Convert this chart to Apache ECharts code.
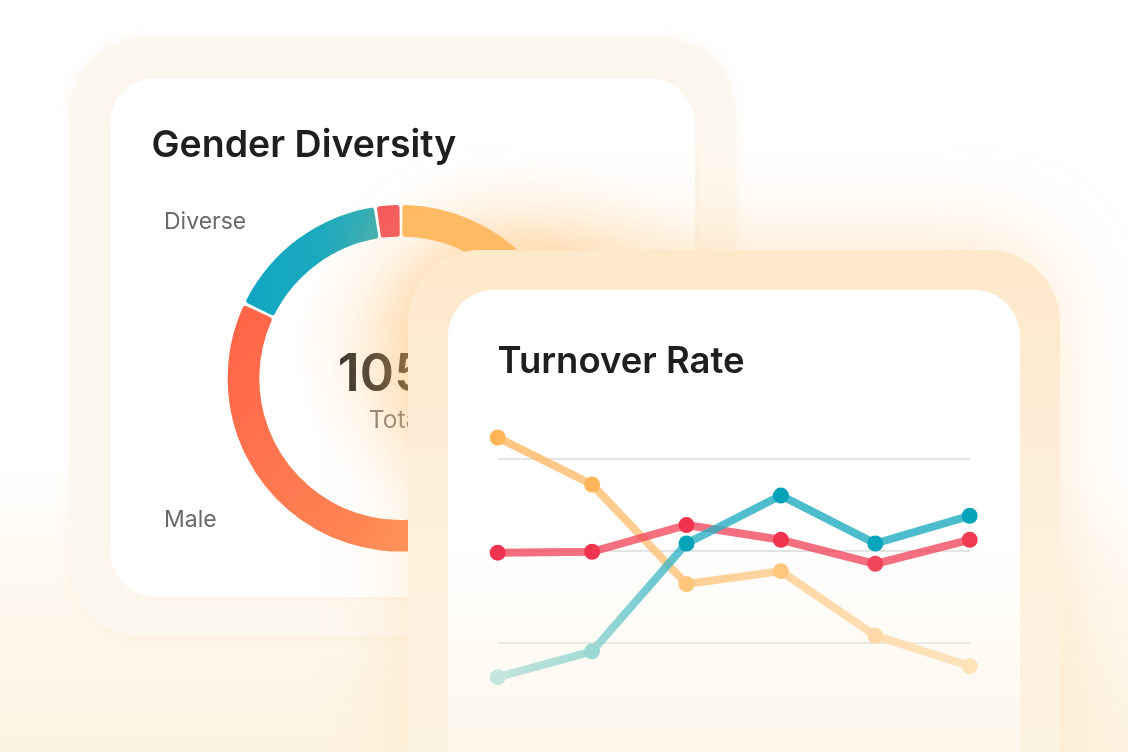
<!DOCTYPE html>
<html>
<head>
<meta charset="utf-8">
<script src="https://cdn.jsdelivr.net/npm/echarts@6/dist/echarts.min.js"></script>
<style>
html,body{margin:0;padding:0;width:1128px;height:752px;overflow:hidden;}
body{position:relative;background:linear-gradient(180deg,#ffffff 0%,#ffffff 62%,#fef9f0 78%,#fdf3e1 100%);font-family:Inter,sans-serif;}
.abs{position:absolute;}
#backHalo{left:70px;top:38px;width:665px;height:598px;border-radius:72px;background:#fdf8ef;box-shadow:0 0 16px rgba(240,205,160,0.18);}
#backCard{left:110px;top:78px;width:585px;height:519px;border-radius:46px;background:#ffffff;box-shadow:0 0 8px rgba(235,205,160,0.15);}
#glow{left:290px;top:160px;width:460px;height:380px;background:radial-gradient(ellipse 50% 50% at 50% 50%, rgba(255,185,100,0.6) 0%, rgba(255,188,105,0.42) 45%, rgba(255,200,130,0.14) 75%, rgba(255,210,150,0) 100%);}
#frontHalo{left:408px;top:250px;width:652px;height:560px;border-radius:72px;background:linear-gradient(180deg,#fde8ca 0%,#fdefdb 45%,#fdf4e5 100%);box-shadow:0 -20px 90px -10px rgba(255,185,100,0.34);}
#frontCard{left:448px;top:290px;width:572px;height:520px;border-radius:46px;background:linear-gradient(180deg,#ffffff 0%,#ffffff 48%,#fefaf2 75%,#fdf5e6 100%);}
#c1{left:110px;top:78px;width:585px;height:519px;}
#c2{left:448px;top:290px;width:572px;height:462px;}
</style>
</head>
<body>
<div id="backHalo" class="abs"></div>
<div id="backCard" class="abs"></div>
<div id="c1" class="abs"></div>
<div id="glow" class="abs"></div>
<div id="frontHalo" class="abs"></div>
<div id="frontCard" class="abs"></div>
<div id="c2" class="abs"></div>
<script>
// ---- Gender Diversity data ----
const genderNames = ['Female', 'Male', 'Diverse', 'Undisclosed'];
const genderValues = [442, 420, 163, 25];
const genderTitle = 'Gender Diversity';
const genderLabels = ['Diverse', 'Male'];
const totalCaption = 'Total';

// ---- Turnover Rate data ----
const months = ['Jan', 'Feb', 'Mar', 'Apr', 'May', 'Jun'];
const seriesOrange = [32.3, 27.2, 16.4, 17.8, 10.8, 7.5];
const seriesRed = [19.8, 19.9, 22.8, 21.2, 18.6, 21.2];
const seriesTeal = [6.3, 9.1, 20.8, 26.0, 20.8, 23.8];
const turnoverTitle = 'Turnover Rate';
const yTicks = [0, 10, 20, 30, 40];

// ---- styles ----
const orangeDots = ['#ffb457', '#ffb65b', '#ffc57b', '#ffc67e', '#ffd9a7', '#ffe2b8'];
const redDots = ['#f03450', '#f03450', '#f03450', '#f03450', '#f0475c', '#ef3a52'];
const tealDots = ['#c5e6df', '#9cd8d3', '#06a4bb', '#03a3ba', '#07a5bb', '#03a3ba'];

const total = genderValues.reduce((a, b) => a + b, 0);

const c1 = echarts.init(document.getElementById('c1'), null, {renderer: 'canvas'});
const grad = (x2, y2, stops) => new echarts.graphic.LinearGradient(0, 0, x2, y2, stops.map((c, i) => ({offset: i / (stops.length - 1), color: c})));
const sliceColors = [
  '#ffb960',
  grad(1, 1, ['#ff6347', '#ff7a50', '#ff965a']),
  grad(1, 0, ['#10a7c3', '#1aa9bf', '#3aaeb3']),
  '#f4575b'
];
const txt = (x, y, text, font, fill, align) => ({type: 'text', x: x, y: y, style: {text: text, font: font, fill: fill, textAlign: align || 'left', align: align || 'left', textVerticalAlign: 'middle', verticalAlign: 'middle'}});
c1.setOption({
  animation: false,
  graphic: [
    txt(41.5, 67.7, genderTitle, '600 37.5px Inter', '#1f1f1f'),
    txt(54, 144, genderLabels[0], '400 23px Inter', '#6a6a6a'),
    txt(54, 442, genderLabels[1], '400 23px Inter', '#6a6a6a'),
    txt(289.5, 297.3, String(total), '600 52px Inter', '#262626', 'center'),
    txt(287, 342.5, totalCaption, '400 24.5px Inter', '#7a7a7a', 'center')
  ],
  series: [{
    type: 'pie',
    center: [291, 300.3],
    radius: [141.7, 173.3],
    startAngle: 90,
    clockwise: true,
    padAngle: 1,
    silent: true,
    label: {show: false},
    labelLine: {show: false},
    itemStyle: {borderRadius: 3},
    data: genderNames.map((n, i) => ({name: n, value: genderValues[i], itemStyle: {color: sliceColors[i]}}))
  }]
});

const c2 = echarts.init(document.getElementById('c2'), null, {renderer: 'canvas'});
const lineSeries = (name, data, stops, dots, z) => ({
  type: 'line',
  name: name,
  data: data,
  z: z,
  symbol: 'circle',
  symbolSize: 16,
  silent: true,
  lineStyle: {width: 8, opacity: 0.8, color: grad(1, 0, stops), cap: 'round', join: 'round'},
  itemStyle: {color: p => dots[p.dataIndex], borderWidth: 0}
});
c2.setOption({
  animation: false,
  graphic: [
    txt(49.5, 71.7, turnoverTitle, '600 36.5px Inter', '#1f1f1f')
  ],
  grid: {left: 49.7, right: 50.3, top: 76.5, bottom: 16.8},
  xAxis: {type: 'category', data: months, boundaryGap: false, axisLine: {show: false}, axisTick: {show: false}, axisLabel: {show: false}},
  yAxis: {
    type: 'value', min: yTicks[0], max: yTicks[yTicks.length - 1], interval: yTicks[1] - yTicks[0],
    axisLine: {show: false}, axisTick: {show: false}, axisLabel: {show: false},
    splitLine: {show: true, lineStyle: {width: 2, color: ['rgba(0,0,0,0)', '#ece9e3', '#e4e4e4', '#e4e4e4', 'rgba(0,0,0,0)']}}
  },
  series: [
    lineSeries('Sales', seriesOrange, ['#ffb661', '#ffbd70', '#ffc27a', '#ffcb8c', '#ffd7a5', '#ffdeb0'], orangeDots, 2),
    lineSeries('Support', seriesRed, ['#f24c5f', '#f24c5f'], redDots, 3),
    lineSeries('Engineering', seriesTeal, ['#b3e0d6', '#8fd3cf', '#2db1c3', '#20acc0', '#20acc0', '#20acc0'], tealDots, 4)
  ]
});
</script>
</body>
</html>
